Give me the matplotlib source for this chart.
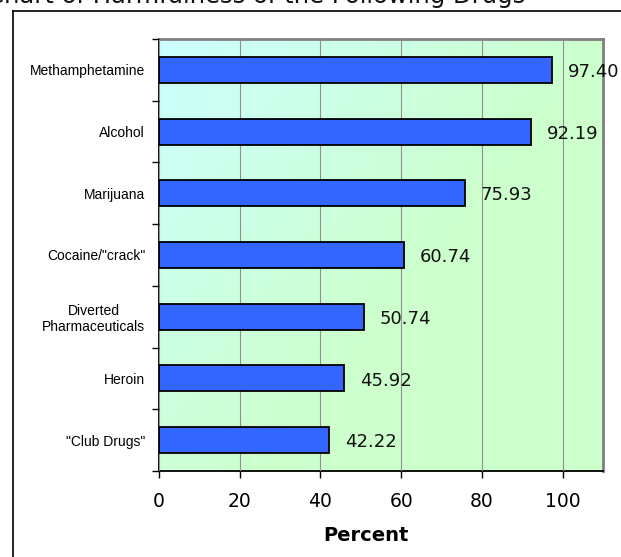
import numpy as np
import matplotlib
matplotlib.use("Agg")
import matplotlib.pyplot as plt
from matplotlib.lines import Line2D
from matplotlib.colors import LinearSegmentedColormap

# drugs rated harmful, percent of respondents
drugs = ["Methamphetamine", "Alcohol", "Marijuana", 'Cocaine/"crack"',
         "Diverted\nPharmaceuticals", "Heroin", '"Club Drugs"']
percent = [97.40, 92.19, 75.93, 60.74, 50.74, 45.92, 42.22]
xticks = [0, 20, 40, 60, 80, 100]

W, H = 621, 557
fig = plt.figure(figsize=(W / 100, H / 100), dpi=100)
ax = fig.add_axes([159 / W, 1 - 471 / H, (603 - 159) / W, (471 - 39) / H])

# diagonal cyan -> mint background
n = 200
xx, yy = np.meshgrid(np.linspace(0, 1, n), np.linspace(0, 1, n))
t = np.clip((1.3 * xx + yy) / 1.3, 0, 1)
cmap = LinearSegmentedColormap.from_list("bg", ["#ccffff", "#ccffcc"])
ax.imshow(t, cmap=cmap, extent=[0, 110, 6.5, -0.5], aspect="auto",
          interpolation="bilinear", zorder=0)

y = np.arange(len(drugs))
ax.barh(y, percent, height=0.42, color="#3366ff", edgecolor="black",
        linewidth=1.3, zorder=3)

for yi, v in zip(y, percent):
    ax.annotate(f"{v:.2f}", (v, yi), xytext=(11, -1.5), textcoords="offset points",
                ha="left", va="center", fontsize=13, color="#111111",
                family="DejaVu Sans", zorder=4, annotation_clip=False)

ax.set_xlim(0, 110)
ax.set_ylim(6.5, -0.5)
ax.set_xticks(xticks)
ax.set_xticklabels([str(v) for v in xticks], fontsize=13.5, family="DejaVu Sans")
ax.tick_params(axis="x", direction="out", length=5, width=1, pad=10, color="black")

ax.set_yticks(y)
ax.set_yticklabels(drugs, fontsize=10, family="Liberation Sans",
                   multialignment="center")
ax.tick_params(axis="y", which="major", length=0, pad=10)
ax.set_yticks(np.arange(-0.5, 7, 1), minor=True)
ax.tick_params(axis="y", which="minor", direction="out", length=5, width=1, color="black")

ax.xaxis.grid(True, color="#909090", linewidth=0.8)
ax.set_axisbelow(False)
for g in ax.get_xgridlines():
    g.set_zorder(1)

ax.set_xlabel("Percent", fontsize=14, fontweight="bold", family="DejaVu Sans")
ax.xaxis.set_label_coords(0.465, (471 - 541) / 432, transform=ax.transAxes)
ax.xaxis.label.set_va("baseline")

ax.spines["left"].set_color("black")
ax.spines["bottom"].set_color("black")
ax.spines["left"].set_linewidth(1.3)
ax.spines["bottom"].set_linewidth(1.3)
ax.spines["top"].set_color("#808080")
ax.spines["right"].set_color("#808080")
ax.spines["top"].set_linewidth(2)
ax.spines["right"].set_linewidth(2)

# outer chart frame (runs off the right and bottom edges)
fig.add_artist(Line2D([12.5 / W, 12.5 / W], [-0.05, 1 - 11 / H],
                      color="black", linewidth=1.2, transform=fig.transFigure))
fig.add_artist(Line2D([12.5 / W, 1.05], [1 - 11 / H, 1 - 11 / H],
                      color="black", linewidth=1.2, transform=fig.transFigure))

fig.text(-13 / W, 1 - 3 / H, "Chart of Harmfulness of the Following Drugs",
         fontsize=17.5, family="DejaVu Sans", ha="left", va="baseline",
         color="#111111")

fig.savefig("out.png", dpi=100)
